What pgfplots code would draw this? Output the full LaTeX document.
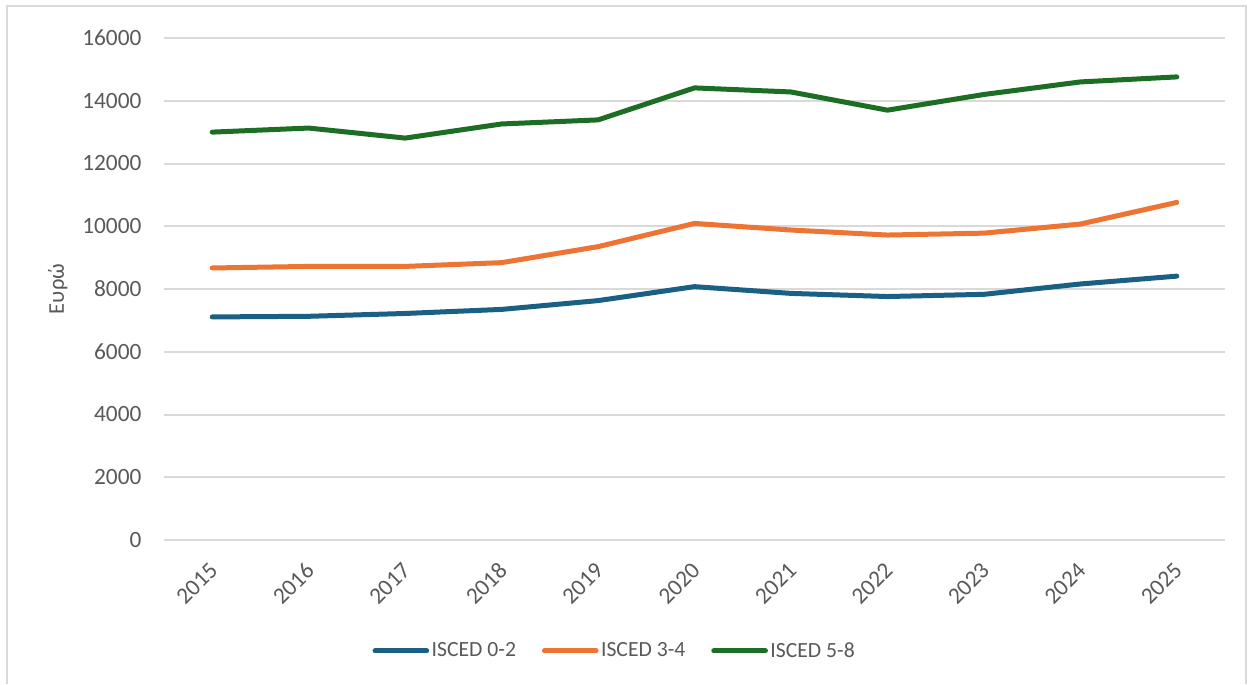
\documentclass[border=0pt]{standalone}
\usepackage{pgfplots}
\pgfplotsset{compat=1.18}
\usepackage{fontspec}
\setmainfont{Carlito}
\definecolor{cblue}{HTML}{1A5F84}
\definecolor{corange}{HTML}{ED7433}
\definecolor{cgreen}{HTML}{1C6E24}
\definecolor{ctext}{HTML}{595959}
\definecolor{cgrid}{HTML}{D9D9D9}
\begin{document}
\begin{tikzpicture}
\begin{axis}[
    at={(0,0)}, anchor=south west,
    scale only axis,
    width=636.6pt, height=301.2pt,
    xmin=-0.5, xmax=10.5,
    ymin=0, ymax=16000,
    xtick={0,...,10},
    xticklabels={2015,2016,2017,2018,2019,2020,2021,2022,2023,2024,2025},
    ytick={0,2000,...,16000},
    scaled y ticks=false,
    /pgf/number format/1000 sep={},
    /pgf/number format/assume math mode=true,
    ymajorgrids,
    grid style={cgrid, line width=1.2pt},
    axis line style={draw=none},
    major tick length=0pt,
    tick label style={font=\fontsize{14}{16}\selectfont, color=ctext},
    yticklabel style={xshift=-10pt},
    xticklabel style={rotate=45, anchor=east, xshift=-7.3pt, yshift=-12pt},
    ylabel={Ευρώ},
    ylabel style={at={(axis description cs:-0.1,0.5)}, anchor=center,
        font=\fontsize{13.5}{15}\selectfont, color=ctext},
    legend columns=3,
    legend style={at={(0.425,-0.221)}, anchor=center, draw=none,
        font=\fontsize{13}{15}\selectfont, text=ctext,
        nodes={inner sep=1.5pt},
        /tikz/every even column/.append style={column sep=14pt}},
    legend image code/.code={\draw[#1, line cap=round] (0pt,0pt) -- (31pt,0pt);},
    every axis plot/.append style={line width=3pt, line join=round, line cap=round},
]
\addplot[cblue] coordinates {
    (0,7110) (1,7130) (2,7220) (3,7350) (4,7630) (5,8075)
    (6,7860) (7,7760) (8,7830) (9,8160) (10,8410)
};
\addlegendentry{ISCED 0-2}
\addplot[corange] coordinates {
    (0,8670) (1,8720) (2,8720) (3,8840) (4,9350) (5,10090)
    (6,9880) (7,9720) (8,9780) (9,10070) (10,10760)
};
\addlegendentry{ISCED 3-4}
\addplot[cgreen] coordinates {
    (0,13000) (1,13130) (2,12810) (3,13260) (4,13390) (5,14410)
    (6,14280) (7,13700) (8,14200) (9,14600) (10,14760)
};
\addlegendentry{ISCED 5-8}
\end{axis}
\useasboundingbox (-98.4pt,-86.4pt) rectangle (653.4pt,324pt);
\draw[cgrid, line width=1.2pt] (-94.2pt,-86.4pt) -- (-94.2pt,320.4pt) -- (649.2pt,320.4pt) -- (649.2pt,-86.4pt);
\end{tikzpicture}
\end{document}
